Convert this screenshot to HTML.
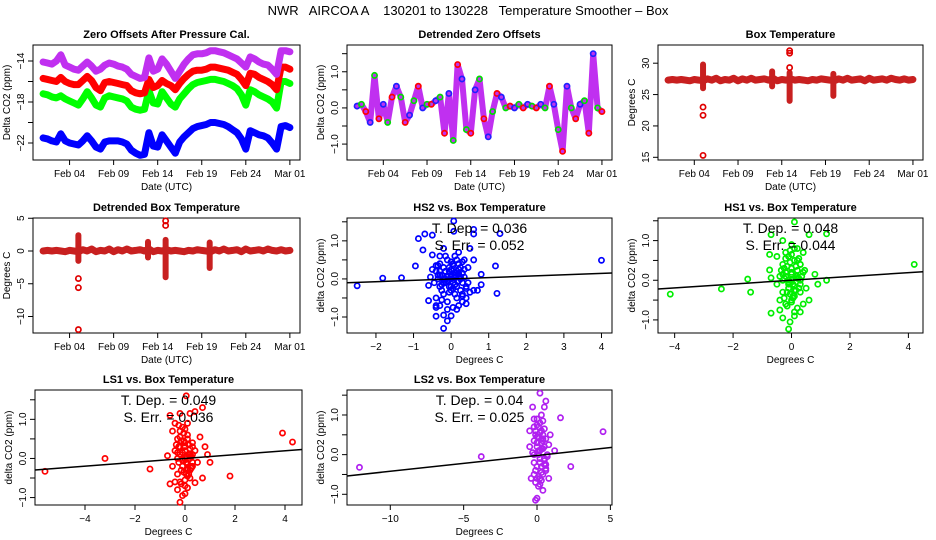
<!DOCTYPE html>
<html><head><meta charset="utf-8"><style>
html,body{margin:0;padding:0;background:#fff;}
svg{display:block;font-family:"Liberation Sans",sans-serif;}
</style></head><body>
<svg id="chart" width="936" height="540" viewBox="0 0 936 540" xmlns="http://www.w3.org/2000/svg">
<text x="468" y="15" font-size="13" text-anchor="middle" xml:space="preserve">NWR   AIRCOA A    130201 to 130228   Temperature Smoother – Box</text>
</svg>
<script>
// ---------- data (sampled every 0.5 day from Feb 01) ----------
const seriesLS2 = [-14.1,-14.2,-14.3,-14.0,-13.4,-14.4,-14.6,-14.8,-14.9,-14.5,-14.1,-14.5,-15.0,-14.8,-14.4,-14.2,-14.3,-14.5,-14.6,-14.8,-15.3,-15.5,-15.7,-15.6,-13.7,-15.0,-14.8,-13.8,-14.3,-15.0,-15.7,-15.0,-14.3,-13.8,-13.4,-13.3,-13.3,-13.2,-13.0,-13.0,-13.1,-13.2,-13.4,-13.6,-13.8,-14.2,-14.6,-13.6,-13.8,-14.1,-14.3,-14.4,-14.8,-15.3,-13.0,-13.0,-13.1];
const seriesLS1 = [-15.7,-15.8,-15.9,-16.0,-15.6,-16.0,-16.2,-16.3,-16.3,-15.9,-15.5,-15.9,-16.6,-16.9,-16.1,-16.0,-16.1,-16.2,-16.3,-16.4,-16.9,-17.1,-17.2,-17.1,-15.8,-16.6,-16.4,-15.9,-16.2,-16.4,-16.8,-16.2,-15.7,-15.3,-15.0,-14.9,-14.9,-14.8,-14.6,-14.6,-14.7,-14.8,-14.9,-15.1,-15.3,-15.8,-16.4,-15.2,-15.3,-15.6,-15.8,-16.0,-16.3,-16.8,-14.6,-14.6,-14.8];
const seriesHS1 = [-17.2,-17.3,-17.5,-17.6,-17.4,-17.7,-17.9,-18.1,-18.3,-17.7,-17.0,-17.6,-18.3,-18.5,-17.6,-17.4,-17.5,-17.6,-17.7,-17.9,-18.5,-18.7,-18.8,-18.7,-16.9,-18.1,-18.2,-17.0,-17.6,-18.2,-18.5,-17.7,-17.2,-16.7,-16.3,-16.1,-16.0,-15.9,-15.8,-15.8,-15.9,-16.0,-16.2,-16.4,-16.7,-17.3,-18.3,-16.8,-17.0,-17.3,-17.5,-17.7,-18.0,-18.6,-16.0,-16.0,-16.2];
const seriesHS2 = [-21.5,-21.6,-21.8,-21.9,-21.1,-21.8,-22.0,-22.1,-22.2,-21.8,-21.3,-21.8,-22.4,-22.6,-21.9,-21.8,-21.8,-21.8,-21.9,-22.1,-22.7,-23.0,-23.2,-23.1,-21.0,-22.3,-22.4,-21.2,-21.8,-22.4,-23.0,-21.9,-21.4,-21.0,-20.6,-20.4,-20.3,-20.2,-20.0,-20.0,-20.1,-20.2,-20.4,-20.7,-21.0,-21.6,-22.6,-20.8,-21.0,-21.2,-21.3,-21.5,-22.0,-22.6,-20.4,-20.3,-20.5];
const detrended = [0.05,0.1,-0.1,-0.4,0.9,-0.3,0.1,-0.4,0.3,0.6,0.3,-0.4,-0.2,0.2,0.6,0.0,0.1,0.1,0.2,0.3,-0.7,0.4,-0.9,1.2,0.8,-0.6,-0.7,0.5,0.8,-0.3,-0.8,-0.1,0.4,0.3,0.0,0.05,0.0,0.1,0.0,0.1,0.05,0.0,0.1,0.0,0.6,0.1,-0.6,-1.2,0.6,0.0,-0.3,0.1,0.2,-0.7,1.5,0.0,-0.1];
const boxTemp = [27.3,27.4,27.3,27.4,27.3,27.2,27.4,27.3,27.2,27.5,27.3,27.6,27.2,27.4,27.3,27.6,27.2,27.5,27.3,27.6,27.3,27.4,27.5,27.3,27.6,27.2,27.4,27.3,27.5,27.3,27.4,27.3,27.2,27.4,27.3,27.5,27.4,27.3,27.2,27.5,27.3,27.6,27.3,27.4,27.5,27.2,27.6,27.3,27.4,27.5,27.3,27.6,27.4,27.3,27.5,27.3,27.4];
const boxSpikeT = [4,11.9,13.9,18.9];
const boxSpikeLo = [26.0,26.3,24.0,24.8];
const boxSpikeHi = [29.8,28.7,28.5,28.3];
const boxOutT = [4,4,4,13.9,13.9,13.9];
const boxOutV = [23.0,21.7,15.3,32.0,31.6,29.3];
const dBoxTemp = [0,0.1,0,0.1,0,-0.1,0.1,0,-0.1,0.2,0,0.3,-0.1,0.1,0,0.3,-0.1,0.2,0,0.3,0,0.1,0.2,0,0.3,-0.1,0.1,0,0.2,0,0.1,0,-0.1,0.1,0,0.2,0.1,0,-0.1,0.2,0,0.3,0,0.1,0.2,-0.1,0.3,0,0.1,0.2,0,0.3,0.1,0,0.2,0,0.1];
const dSpikeT = [4,11.9,13.9,18.9];
const dSpikeLo = [-1.5,-1.0,-4.0,-2.6];
const dSpikeHi = [2.4,1.4,1.7,1.3];
const dOutT = [4,4,4,13.9,13.9];
const dOutV = [-4.2,-5.6,-12.0,3.9,4.6];
const dateTicks = [3,8,13,18,23,28];
const dateLabels = ["Feb 04","Feb 09","Feb 14","Feb 19","Feb 24","Mar 01"];

const hs2X = [-2.5,-1.82,-1.32,-0.95,-0.87,-0.75,-0.7,-0.6,-0.6,-0.5,-0.5,0.07,0.07,0.6,0.6,1.3,0.5,0.6,0.8,0.8,1.18,1.22,4.0,-0.4,-0.4,-0.4,-0.2,-0.1,0,-0.2,0.15,0.4,0.4,0.6,0.7,-0.55,0.2,0.3,-0.3,-0.2,-0.4,-0.35,-0.3,-0.3,-0.25,-0.2,-0.2,-0.15,-0.1,-0.1,-0.05,0,0,0.05,0.1,0.1,0.15,0.2,0.2,0.25,0.3,0.3,0.35,0.4,0.45,-0.45,-0.4,-0.3,-0.15,0,0.05,0.1,0.2,0.35,0.5,-0.5,-0.1,0.05,-0.05,0.15,-0.25,0.25,0.45,-0.35,0,0.1,-0.2,0.3,-0.1,0.2,-0.3,-0.2,-0.1,0,0.1,0.2,0.3,-0.25,-0.15,-0.05,0.05,0.15,0.25,-0.35,-0.2,0,0.2,0.35,-0.1,0.1,-0.3,-0.05,0.05,0.3,-0.15,0.15,0,-0.25,0.25,-0.4,0.4,0.1];
const hs2Y = [-0.18,0.02,0.03,0.34,1.06,0.76,1.18,-0.17,-0.57,1.15,0.63,1.52,1.25,1.3,1.18,1.19,0.8,0.5,0.12,-0.15,0.34,-0.38,0.49,-0.98,-0.7,-0.75,-1.3,-1.1,-0.97,-0.95,-0.8,-0.65,-0.5,-0.3,-0.3,0.05,0.7,0.45,0.6,0.8,0.2,0,-0.2,0.4,0.1,-0.4,0.3,-0.1,0.5,-0.6,0.2,0,-0.3,0.35,-0.15,0.1,-0.5,0.25,-0.05,-0.3,0.15,-0.6,0.05,-0.2,0.3,-0.1,-0.5,-0.7,0.6,0.45,-0.75,0.6,-0.7,0.5,-0.35,0.25,0.05,-0.1,-0.2,0.2,-0.3,0.05,-0.1,0.35,0.25,-0.4,0,-0.45,-0.8,0.4,0.1,0.0,-0.05,0.1,0.15,0.05,-0.1,-0.15,0.2,0.3,-0.25,-0.2,0.0,0.1,-0.1,0.05,0.15,0.25,-0.05,-0.15,0.2,-0.35,0.4,-0.4,0.0,0.5,-0.2,-0.55,0.3,0.35,-0.25,0.05,-0.65];
const hs1X = [-4.15,-2.4,-1.5,-1.4,-0.75,-0.7,-0.7,-0.75,-0.7,0.1,0.6,1.2,0.4,0.45,0.8,0.9,1.2,4.2,-0.1,-0.05,-0.3,-0.4,0.3,0.6,-0.3,0.2,-0.5,-0.4,-0.3,-0.3,-0.2,-0.2,-0.1,-0.1,0,0,0,0.1,0.1,0.2,0.2,0.3,0.3,0.4,0.5,-0.5,-0.4,-0.2,0,0.1,0.2,0.3,0.4,-0.1,0,-0.25,0.15,0.05,-0.15,0.25,0.35,-0.35,0.1,-0.05,-0.3,-0.2,-0.1,0,0.1,0.2,0.3,-0.25,-0.15,-0.05,0.05,0.15,0.25,-0.2,0,0.2,-0.1,0.1,-0.3,0.3,0,-0.15,0.15,-0.05,0.05,0.25,-0.25,0.1];
const hs1Y = [-0.35,-0.22,0.03,-0.3,0.26,0.06,-0.83,0.65,1.15,1.47,1.15,1.17,0.7,0.25,0.15,-0.1,0.0,0.4,-1.23,-1.05,-0.95,-0.75,-0.8,-0.5,1.0,0.8,0.6,0.1,-0.3,0.4,-0.6,0.2,0.6,-0.2,0.3,-0.5,0,0.5,-0.4,0.1,-0.7,0.4,-0.3,0.2,-0.2,-0.1,-0.5,0.7,0.9,-0.8,0.5,0,-0.6,-0.1,0.15,0.05,-0.25,-0.45,0.35,0.55,0.1,0.25,-0.9,0.75,0.0,0.1,-0.05,0.2,-0.15,0.05,-0.1,0.3,-0.3,0.45,-0.4,0.35,-0.2,0.55,-0.55,0.25,0.0,-0.25,0.15,0.4,0.65,-0.65,0.1,-0.35,-0.1,0.05,-0.45,0.8];
const ls1X = [-5.6,-3.2,-1.4,-0.7,-0.6,-0.6,0.05,0.7,0.4,0.2,-0.2,0.6,0.8,0.9,1.0,0.7,0.4,1.8,3.9,4.3,-0.2,-0.1,-0.3,-0.4,0.1,-0.5,-0.4,-0.3,-0.3,-0.2,-0.2,-0.1,-0.1,0,0,0,0.1,0.1,0.2,0.2,0.3,0.3,0.4,0.5,-0.5,-0.4,-0.2,0,0.1,0.2,0.3,-0.1,0,-0.25,0.15,0.05,-0.15,0.25,-0.35,0.1,-0.05,0.2,-0.3,-0.2,-0.1,0,0.1,0.2,0.3,-0.25,-0.15,-0.05,0.05,0.15,0.25,-0.2,0,0.2,-0.1,0.1,-0.3,0.3,0,-0.15,0.15,-0.05,0.05,-0.25,0.25,0.1];
const ls1Y = [-0.33,0.0,-0.27,0.07,1.1,-0.65,1.6,1.3,1.2,1.15,1.15,0.55,0.3,0.1,-0.1,-0.5,-0.62,-0.45,0.65,0.42,-1.12,-0.95,-0.8,0.9,0.9,0.7,0.2,-0.4,0.5,-0.6,0.3,0.8,-0.2,0,-0.7,0.4,-0.3,0.6,0.1,-0.5,0.3,-0.2,0.2,-0.1,-0.2,-0.6,0.7,-0.9,0.5,-0.3,0.1,0.15,0.3,-0.1,-0.4,0.05,0.45,-0.25,0.35,-0.75,0.65,0.0,0.0,0.1,-0.05,0.2,-0.15,0.05,-0.1,0.3,-0.3,0.45,-0.4,0.35,-0.2,0.55,-0.55,0.25,0.0,-0.25,0.15,0.4,0.75,-0.65,0.1,-0.35,-0.1,0.85,0.05,-0.45];
const ls2X = [-12.1,-3.8,-0.5,-0.3,0.2,0.6,0.5,0.3,1.6,1.2,2.3,4.5,0.8,-0.1,0,-0.4,-0.5,0.9,-0.2,0.4,-0.2,-0.1,0,0.1,0.2,0.3,0.4,0.5,0.6,0.7,-0.2,-0.1,0,0.1,0.2,0.3,0.4,0.5,0.6,0.8,-0.3,0,0.2,0.4,0.6,-0.1,0.1,0.3,0.5,0.7,0,0.2,0.4,-0.2,0.1,0.3,-0.2,0,0.2,0.4,0.6,-0.1,0.1,0.3,0.5,0,0.2,0.4,-0.2,0.3,0.1,0.5,0,0.2];
const ls2Y = [-0.32,-0.05,0.2,1.2,1.55,1.35,1.2,1.0,0.93,0.1,-0.3,0.58,-0.6,-1.15,-1.1,-0.6,0.6,0.5,0.9,-0.9,0.7,0.5,0.3,0.1,-0.1,-0.3,-0.5,0.2,0.4,0.0,-0.2,-0.4,-0.6,-0.8,0.8,0.6,0.35,-0.15,-0.35,0.25,0.05,0.75,0.55,0.15,-0.25,-0.7,0.45,-0.45,0.65,-0.05,0.9,-0.75,0.85,0.35,-0.55,-0.65,0.0,0.2,-0.2,0.4,-0.4,0.6,0.0,0.3,-0.1,-0.3,0.1,0.5,-0.5,0.15,0.7,-0.25,0.45,-0.6];
const slopes = [0.036,0.048,0.049,0.04];
const intercepts = [0.0,0.0,0.0,-0.02];
const tDepText = ["0.036","0.048","0.049","0.04"];
const sErrText = ["0.052","0.044","0.036","0.025"];

// ---------- helpers ----------
const NS = "http://www.w3.org/2000/svg";
const svg = document.getElementById("chart");
function mk(tag, attrs, parent) {
  const e = document.createElementNS(NS, tag);
  for (const k in attrs) e.setAttribute(k, attrs[k]);
  (parent || svg).appendChild(e);
  return e;
}
function panel(name, L, R, T, B, x0, x1, y0, y1) {
  const g = mk("g", {});
  
  
  return { g, L, R, T, B, sx: v => L + (v - x0) / (x1 - x0) * (R - L), sy: v => B - (v - y0) / (y1 - y0) * (B - T) };
}
function frame(p, title, xTitle, yTitle, xTicks, xLabels, yTicks, yLabVals, yLabs) {
  const r = mk("rect", { x: p.L, y: p.T, width: p.R - p.L, height: p.B - p.T, fill: "none", stroke: "#000", "stroke-width": 1 }, p.g);
  
  
  const t = mk("text", { x: (p.L + p.R) / 2, y: p.T - 7, "font-size": 11, "font-weight": "bold", "text-anchor": "middle" }, p.g);
  t.textContent = title;
  
  
  const xs = xTicks.map(p.sx);
  mk("line", { x1: xs[0], x2: xs[xs.length - 1], y1: p.B, y2: p.B, stroke: "#000" }, p.g);
  xTicks.forEach((v, i) => {
    const x = p.sx(v);
    mk("line", { x1: x, x2: x, y1: p.B, y2: p.B + 5, stroke: "#000" }, p.g);
    const l = mk("text", { x: x, y: p.B + 17, "font-size": 10, "text-anchor": "middle" }, p.g);
    l.textContent = xLabels[i];
    
    
  });
  const xt = mk("text", { x: (p.L + p.R) / 2, y: p.B + 30, "font-size": 10, "text-anchor": "middle" }, p.g);
  xt.textContent = xTitle;
  
  
  const ys = yTicks.map(p.sy);
  mk("line", { x1: p.L, x2: p.L, y1: ys[0], y2: ys[ys.length - 1], stroke: "#000" }, p.g);
  yTicks.forEach(v => { const y = p.sy(v); mk("line", { x1: p.L - 5, x2: p.L, y1: y, y2: y, stroke: "#000" }, p.g); });
  yLabVals.forEach((v, i) => {
    const y = p.sy(v), x = p.L - 9;
    const l = mk("text", { x: x, y: y, "font-size": 10, "text-anchor": "middle", transform: `rotate(-90 ${x} ${y})` }, p.g);
    l.textContent = yLabs[i];
    
    
  });
  const yx = p.L - 23, yy = (p.T + p.B) / 2;
  const yt = mk("text", { x: yx, y: yy, "font-size": 10, "text-anchor": "middle", transform: `rotate(-90 ${yx} ${yy})` }, p.g);
  yt.textContent = yTitle;
  
  
}
function band(p, vals, fill, w) {
  const pts = vals.map((v, i) => p.sx(i * 0.5).toFixed(1) + "," + p.sy(v).toFixed(1)).join(" ");
  const pl = mk("polyline", { points: pts, fill: "none", stroke: fill, "stroke-width": w, "stroke-linejoin": "round", "stroke-linecap": "round" }, p.g);
  
  
}
function circle(p, x, y, col, name) {
  const c = mk("circle", { cx: p.sx(x), cy: p.sy(y), r: 2.6, fill: "none", stroke: col, "stroke-width": 1.7 }, p.g);
  
  
}
function spikes(p, st, lo, hi, ot, ov, fill) {
  st.forEach((t, i) => {
    const s = mk("line", { x1: p.sx(t), x2: p.sx(t), y1: p.sy(lo[i]), y2: p.sy(hi[i]), stroke: fill, "stroke-width": 6, "stroke-linecap": "round" }, p.g);
    
    
  });
  ot.forEach((t, i) => circle(p, t, ov[i], "#e00000", "outlier-point"));
}
const XL = [33, 300], XM = [347, 612], XR = [658, 923];
const R1 = [45, 160], R2 = [218, 333], R3 = [390, 505];
const T0 = -1.15, T1 = 29.15;
const BOXRED = "#c82020", PURP = "#c030f0";

// Panel 1
let p = panel("zero-offsets-panel", XL[0], XL[1], R1[0], R1[1], T0, T1, -23.66, -12.44);
frame(p, "Zero Offsets After Pressure Cal.", "Date (UTC)", "Delta CO2 (ppm)", dateTicks, dateLabels, [-22,-20,-18,-16,-14], [-22,-18,-14], ["−22","−18","−14"]);
band(p, seriesHS2, "#0000ff", 7);
band(p, seriesHS1, "#00ff00", 7);
band(p, seriesLS1, "#ff0000", 7);
band(p, seriesLS2, PURP, 7);

// Panel 2
p = panel("detrended-zero-offsets-panel", XM[0], XM[1], R1[0], R1[1], T0, T1, -1.44, 1.74);
frame(p, "Detrended Zero Offsets", "Date (UTC)", "Delta CO2 (ppm)", dateTicks, dateLabels, [-1,-0.5,0,0.5,1,1.5], [-1,0,1], ["−1.0","0.0","1.0"]);
band(p, detrended, PURP, 6);
detrended.forEach((v, i) => { circle(p, i * 0.5, v, i % 3 === 0 ? "#2020ff" : (i % 3 === 1 ? "#00dd00" : "#ff0000"), "offset-point"); });

// Panel 3
p = panel("box-temperature-panel", XR[0], XR[1], R1[0], R1[1], T0, T1, 14.57, 32.9);
frame(p, "Box Temperature", "Date (UTC)", "Degrees C", dateTicks, dateLabels, [15,20,25,30], [15,20,25,30], ["15","20","25","30"]);
band(p, boxTemp, BOXRED, 7);
spikes(p, boxSpikeT, boxSpikeLo, boxSpikeHi, boxOutT, boxOutV, BOXRED);

// Panel 4
p = panel("detrended-box-temperature-panel", XL[0], XL[1], R2[0], R2[1], T0, T1, -12.52, 5.04);
frame(p, "Detrended Box Temperature", "Date (UTC)", "Degrees C", dateTicks, dateLabels, [-10,-5,0,5], [-10,-5,0,5], ["−10","−5","0","5"]);
band(p, dBoxTemp, BOXRED, 7);
spikes(p, dSpikeT, dSpikeLo, dSpikeHi, dOutT, dOutV, BOXRED);

// Scatter panels
const sc = [
  ["hs2-scatter-panel", "HS2 vs. Box Temperature", XM, R2, -2.77, 4.28, -1.42, 1.6, hs2X, hs2Y, "#0000ff", [-2,-1,0,1,2,3,4], ["−2","−1","0","1","2","3","4"]],
  ["hs1-scatter-panel", "HS1 vs. Box Temperature", XR, R2, -4.57, 4.5, -1.33, 1.57, hs1X, hs1Y, "#00ee00", [-4,-2,0,2,4], ["−4","−2","0","2","4"]],
  ["ls1-scatter-panel", "LS1 vs. Box Temperature", [35,302], R3, -6.0, 4.68, -1.19, 1.75, ls1X, ls1Y, "#ff0000", [-4,-2,0,2,4], ["−4","−2","0","2","4"]],
  ["ls2-scatter-panel", "LS2 vs. Box Temperature", XM, R3, -12.95, 5.11, -1.27, 1.63, ls2X, ls2Y, "#b020f0", [-10,-5,0,5], ["−10","−5","0","5"]]
];
sc.forEach((s, k) => {
  const q = panel(s[0], s[2][0], s[2][1], s[3][0], s[3][1], s[4], s[5], s[6], s[7]);
  frame(q, s[1], "Degrees C", "delta CO2 (ppm)", s[11], s[12], [-1,-0.5,0,0.5,1,1.5], [-1,0,1], ["−1.0","0.0","1.0"]);
  s[8].forEach((x, i) => circle(q, x, s[9][i], s[10], "scatter-point"));
  const ln = mk("line", { x1: q.L, x2: q.R, y1: q.sy(intercepts[k] + slopes[k] * s[4]), y2: q.sy(intercepts[k] + slopes[k] * s[5]), stroke: "#000", "stroke-width": 1.5 }, q.g);
  
  
  const cx = (q.L + q.R) / 2;
  const a = mk("text", { x: cx, y: q.T + 15, "font-size": 14, "text-anchor": "middle" }, q.g);
  a.setAttribute("xml:space", "preserve");
  a.textContent = "T. Dep. =  " + tDepText[k];
  
  
  const b = mk("text", { x: cx, y: q.T + 32, "font-size": 14, "text-anchor": "middle" }, q.g);
  b.setAttribute("xml:space", "preserve");
  b.textContent = "S. Err. =  " + sErrText[k];
  
  
});
</script>
</body></html>
